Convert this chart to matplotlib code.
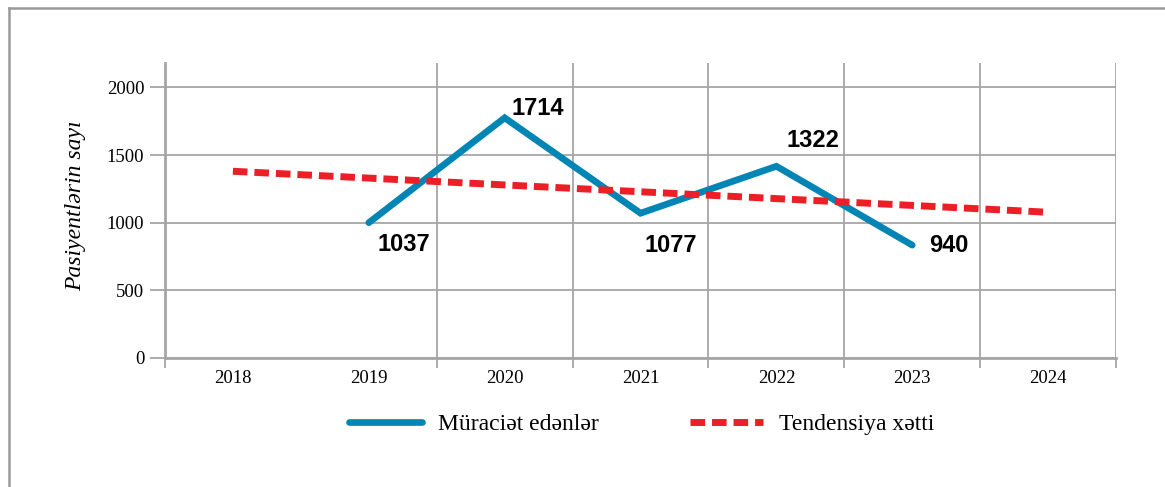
import matplotlib.pyplot as plt
from matplotlib.lines import Line2D
import numpy as np

# Dados
anos = ['2018', '2019', '2020', '2021', '2022', '2023', '2024']
anos_dados = ['2019', '2020', '2021', '2022', '2023']
pacientes = [1000, 1775, 1070, 1417, 834]
rotulos = ['1037', '1714', '1077', '1322', '940']
tendencia_anos = ['2018', '2024']
tendencia = [1380, 1077]

# deslocamento dos rótulos (pixels)
desloc = [(35, -22), (33, 9), (30, -32), (37, 26), (37, 0)]

cinza = '#a6a6a6'
azul = '#0085b5'
vermelho = '#ec1f27'

fig = plt.figure(figsize=(11.65, 4.87), dpi=100)
ax = fig.add_axes([0.1416, 0.2649, 0.958 - 0.1416, 0.8706 - 0.2649])

x = np.arange(len(anos))
pos = {a: i for i, a in enumerate(anos)}
xd = [pos[a] for a in anos_dados]
xt = [pos[a] for a in tendencia_anos]

ax.plot(xd, pacientes, color=azul, lw=4.8, solid_capstyle='round',
        solid_joinstyle='miter', label='Müraciət edənlər', zorder=3)
ax.plot(xt, tendencia, color=vermelho, lw=5, dashes=(2.1, 1.0),
        label='Tendensiya xətti', zorder=4)

for xi, yi, r, d in zip(xd, pacientes, rotulos, desloc):
    ax.annotate(r, (xi, yi), xytext=d, textcoords='offset pixels',
                ha='center', va='center', fontsize=17, fontweight='bold',
                family='Liberation Sans', zorder=5)

ax.set_xlim(-0.5, len(anos) - 0.5)
ax.set_ylim(0, 2180)

ax.set_xticks(x)
ax.set_xticklabels(anos, family='Liberation Serif', fontsize=13.5)
ax.tick_params(axis='x', which='major', length=0, pad=9)
fronteiras = [-0.5] + [i + 0.5 for i in range(1, len(anos))]
ax.set_xticks(fronteiras, minor=True)
ax.tick_params(axis='x', which='minor', length=7, width=1.3, color=cinza)
ax.grid(True, axis='x', which='minor', color=cinza, lw=1.3)

ax.set_yticks(np.arange(0, 2001, 500))
ax.set_yticklabels([str(v) for v in range(0, 2001, 500)],
                   family='Liberation Serif', fontsize=13.5)
ax.tick_params(axis='y', length=11, width=1.3, color=cinza, pad=4)
ax.grid(True, axis='y', which='major', color=cinza, lw=1.3)
ax.set_axisbelow(True)

for s in ['top', 'right']:
    ax.spines[s].set_visible(False)
ax.spines['left'].set_color(cinza)
ax.spines['left'].set_linewidth(2)
ax.spines['bottom'].set_color(cinza)
ax.spines['bottom'].set_linewidth(2)

ax.set_ylabel('Pasiyentlərin sayı', family='Liberation Serif',
              style='italic', fontsize=17, labelpad=15)
ax.yaxis.label.set_y(0.515)

fig.legend(loc='center', bbox_to_anchor=(0.551, 0.129), ncol=2, frameon=False,
           prop={'family': 'Liberation Serif', 'size': 17},
           handlelength=3.1, handletextpad=0.68, columnspacing=3.85)

# moldura
fig.add_artist(Line2D([0.0077, 1.0], [0.9836, 0.9836], color='#9a9a9a', lw=1.8))
fig.add_artist(Line2D([0.0077, 0.0077], [0.0, 0.9836], color='#9a9a9a', lw=1.8))

fig.savefig('out.png', dpi=100)
